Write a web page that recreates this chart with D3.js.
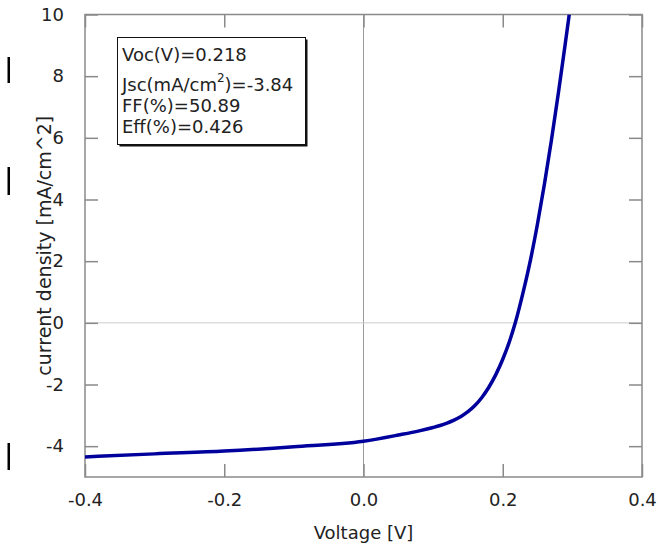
<!DOCTYPE html>
<html>
<head>
<meta charset="utf-8">
<script src="https://cdn.jsdelivr.net/npm/d3@7"></script>
<style>
body { margin: 0; background: #fff; }
text { font-family: "DejaVu Sans", sans-serif; fill: #222; }
</style>
</head>
<body>
<div id="chart"></div>
<script>
var W = 658, H = 546;

// J-V curve
var voltage = [-0.4, -0.3, -0.2, -0.1, 0.0, 0.05, 0.08, 0.1, 0.11, 0.12, 0.13, 0.14, 0.15, 0.16, 0.17, 0.18, 0.19, 0.2, 0.21, 0.218, 0.23, 0.24, 0.25, 0.26, 0.27, 0.28, 0.29, 0.2955];
var current = [-4.35, -4.25, -4.16, -4.02, -3.84, -3.64, -3.505, -3.395, -3.33, -3.25, -3.155, -3.035, -2.88, -2.68, -2.42, -2.09, -1.68, -1.18, -0.58, 0.0, 1.06, 2.06, 3.22, 4.52, 5.94, 7.47, 9.09, 10.0];

var xTicks = [-0.4, -0.2, 0.0, 0.2, 0.4];
var yTicks = [-4, -2, 0, 2, 4, 6, 8, 10];

var legendLines = ["Voc(V)=0.218", "Jsc(mA/cm²)=-3.84", "FF(%)=50.89", "Eff(%)=0.426"];

var pLeft = 85, pRight = 642, pTop = 14.5, pBottom = 477;
var axisColor = "#8a8a8a";
var lineColor = "#00009c";

var svg = d3.select("#chart").append("svg")
	.attr("width", W)
	.attr("height", H);

var x = d3.scaleLinear().domain([-0.4, 0.4]).range([pLeft, pRight]);
var y = d3.scaleLinear().domain([-5, 10]).range([pBottom, pTop]);

// zero lines
svg.append("line")
	.attr("x1", x(0)).attr("x2", x(0))
	.attr("y1", pTop).attr("y2", pBottom)
	.attr("stroke", "#9a9a9a").attr("stroke-width", 1);
svg.append("line")
	.attr("x1", pLeft).attr("x2", pRight)
	.attr("y1", y(0)).attr("y2", y(0))
	.attr("stroke", "#cccccc").attr("stroke-width", 1);

// frame
svg.append("rect")
	.attr("x", pLeft).attr("y", pTop)
	.attr("width", pRight - pLeft).attr("height", pBottom - pTop)
	.attr("fill", "none")
	.attr("stroke", axisColor)
	.attr("stroke-width", 1.5);

// axes with inward ticks
var tk = 13;
svg.append("g").attr("transform", "translate(0," + pBottom + ")")
	.call(d3.axisBottom(x).tickValues(xTicks).tickSizeInner(-tk).tickSizeOuter(0).tickPadding(16).tickFormat(d => d.toFixed(1)))
	.call(g => g.select(".domain").remove());
svg.append("g").attr("transform", "translate(0," + pTop + ")")
	.call(d3.axisTop(x).tickValues(xTicks).tickSizeInner(-tk).tickSizeOuter(0).tickFormat(""))
	.call(g => g.select(".domain").remove());
svg.append("g").attr("transform", "translate(" + pLeft + ",0)")
	.call(d3.axisLeft(y).tickValues(yTicks).tickSizeInner(-tk).tickSizeOuter(0).tickPadding(21).tickFormat(d => String(d)))
	.call(g => g.select(".domain").remove());
svg.append("g").attr("transform", "translate(" + pRight + ",0)")
	.call(d3.axisRight(y).tickValues(yTicks).tickSizeInner(-tk).tickSizeOuter(0).tickFormat(""))
	.call(g => g.select(".domain").remove());

svg.selectAll(".tick line").attr("stroke", axisColor).attr("stroke-width", 1.5);
svg.selectAll(".tick text")
	.attr("fill", "#222")
	.style("font-size", "18px")
	.style("font-family", "DejaVu Sans, sans-serif");

// axis titles
svg.append("text")
	.attr("x", (pLeft + pRight) / 2).attr("y", 539)
	.attr("text-anchor", "middle")
	.style("font-size", "18px")
	.text("Voltage [V]");
svg.append("text")
	.attr("transform", "translate(51," + (pTop + pBottom) / 2 + ") rotate(-90)")
	.attr("text-anchor", "middle")
	.style("font-size", "19px")
	.text("current density [mA/cm^2]");

// curve
svg.append("clipPath").attr("id", "clip")
	.append("rect").attr("x", pLeft).attr("y", pTop)
	.attr("width", pRight - pLeft).attr("height", pBottom - pTop);

var pts = voltage.map((v, i) => [v, current[i]]);
svg.append("path")
	.datum(pts)
	.attr("clip-path", "url(#clip)")
	.attr("fill", "none")
	.attr("stroke", lineColor)
	.attr("stroke-width", 3.5)
	.attr("stroke-linejoin", "round")
	.attr("d", d3.line().x(d => x(d[0])).y(d => y(d[1])).curve(d3.curveMonotoneX));

// legend box with shadow
var bx = 117.5, by = 37.5, bw = 188, bh = 107;
svg.append("rect").attr("x", bx + 2).attr("y", by + 2).attr("width", bw).attr("height", bh).attr("fill", "#111");
svg.append("rect").attr("x", bx).attr("y", by).attr("width", bw).attr("height", bh)
	.attr("fill", "#fff").attr("stroke", "#111").attr("stroke-width", 1);

var baselines = [61, 91, 112, 133];
legendLines.forEach((s, i) => {
	var t = svg.append("text").attr("x", 122).attr("y", baselines[i]).style("font-size", "18px");
	if(s.indexOf("²") >= 0) {
		var parts = s.split("²");
		t.append("tspan").text(parts[0]);
		t.append("tspan").attr("dy", -9).style("font-size", "12px").text("2");
		t.append("tspan").attr("dy", 9).text(parts[1]);
	} else {
		t.text(s);
	}
});

// stray cursor marks at the left edge of the picture
var marks = [[57, 83], [167, 195], [443, 470]];
svg.selectAll(".mark").data(marks).enter().append("rect")
	.attr("class", "mark")
	.attr("x", 7.5).attr("width", 2.5)
	.attr("y", d => d[0]).attr("height", d => d[1] - d[0])
	.attr("fill", "#000");
</script>
</body>
</html>
